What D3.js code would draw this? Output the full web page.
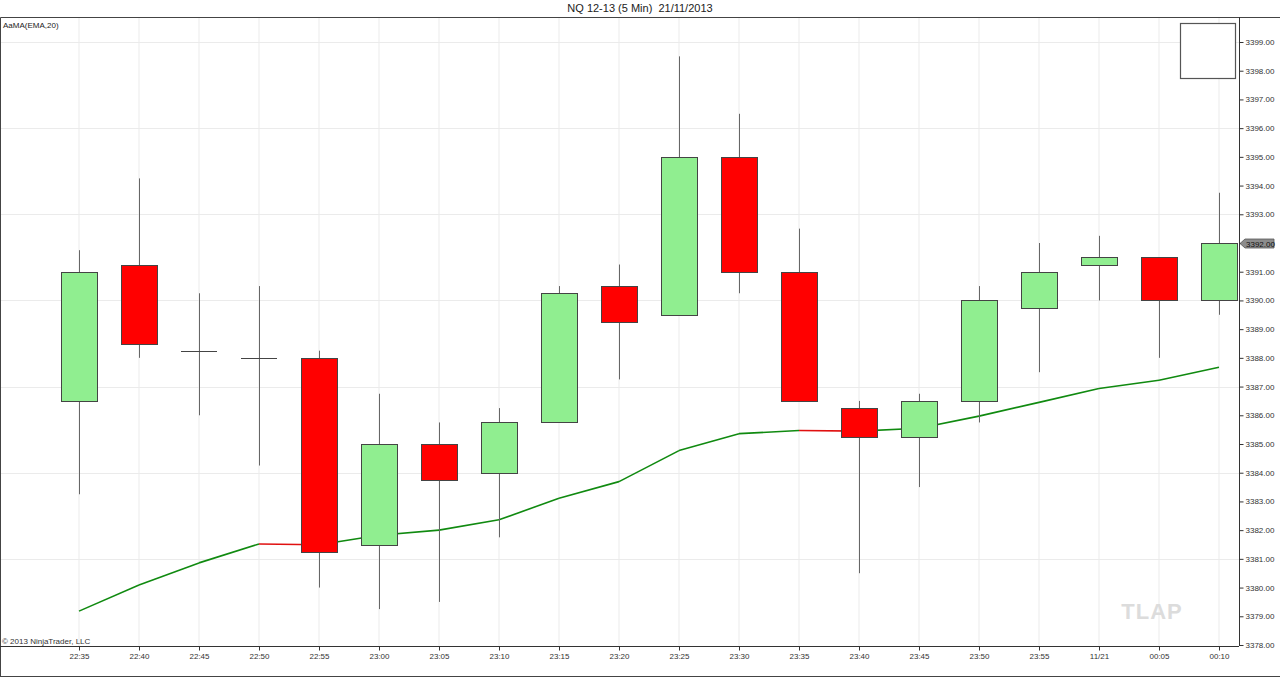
<!DOCTYPE html>
<html>
<head>
<meta charset="utf-8">
<script src="https://cdn.jsdelivr.net/npm/d3@7"></script>
<style>
  body { margin: 0; background: #fff; }
  svg { display: block; font-family: "Liberation Sans", Arial, sans-serif; }
</style>
</head>
<body>
<svg id="chart" width="1280" height="677"></svg>
<script>
// bar times (5 min)
var times = ['22:35','22:40','22:45','22:50','22:55','23:00','23:05','23:10','23:15','23:20',
             '23:25','23:30','23:35','23:40','23:45','23:50','23:55','11/21','00:05','00:10'];
var opens  = [3386.5, 3391.25, 3388.25, 3388.0, 3388.0, 3381.5, 3385.0, 3384.0, 3385.75, 3390.5,
              3389.5, 3395.0, 3391.0, 3386.25, 3385.25, 3386.5, 3389.75, 3391.25, 3391.5, 3390.0];
var highs  = [3391.75, 3394.25, 3390.25, 3390.5, 3388.25, 3386.75, 3385.75, 3386.25, 3390.5, 3391.25,
              3398.5, 3396.5, 3392.5, 3386.5, 3386.75, 3390.5, 3392.0, 3392.25, 3391.5, 3393.75];
var lows   = [3383.25, 3388.0, 3386.0, 3384.25, 3380.0, 3379.25, 3379.5, 3381.75, 3385.75, 3387.25,
              3389.5, 3390.25, 3386.5, 3380.5, 3383.5, 3385.75, 3387.5, 3390.0, 3388.0, 3389.5];
var closes = [3391.0, 3388.5, 3388.25, 3388.0, 3381.25, 3385.0, 3383.75, 3385.75, 3390.25, 3389.25,
              3395.0, 3391.0, 3386.5, 3385.25, 3386.5, 3390.0, 3391.0, 3391.5, 3390.0, 3392.0];
// AaMA(EMA,20)
var emaValues = [3379.18, 3380.09, 3380.86, 3381.52, 3381.49, 3381.82, 3382.0, 3382.36, 3383.11, 3383.69,
                 3384.77, 3385.36, 3385.47, 3385.45, 3385.55, 3385.97, 3386.45, 3386.93, 3387.22, 3387.67];
var priceTicks = d3.range(3378, 3400, 1);
var gridPrices = [3381, 3384, 3387, 3390, 3393, 3396, 3399];
var lastPrice = 3392.0;

var svg = d3.select('#chart');
var plotLeft = 1, plotRight = 1239, plotTop = 17, plotBottom = 646;

var x = d3.scalePoint().domain(times).range([79, 1219]);
var y = d3.scaleLinear().domain([3378, 3399]).range([645, 42]);

// title
svg.append('text')
    .attr('x', 640).attr('y', 12)
    .attr('text-anchor', 'middle')
    .attr('font-size', 11)
    .attr('fill', '#222')
    .style('white-space', 'pre')
    .text('NQ 12-13 (5 Min)  21/11/2013');

// grid
svg.append('g').selectAll('line').data(times).enter().append('line')
    .attr('x1', function (d) { return x(d); }).attr('x2', function (d) { return x(d); })
    .attr('y1', plotTop).attr('y2', plotBottom)
    .attr('stroke', '#ebebeb').attr('stroke-width', 1);

svg.append('g').selectAll('line').data(gridPrices).enter().append('line')
    .attr('x1', plotLeft).attr('x2', plotRight)
    .attr('y1', function (d) { return Math.round(y(d)) + 0.5; })
    .attr('y2', function (d) { return Math.round(y(d)) + 0.5; })
    .attr('stroke', '#ebebeb').attr('stroke-width', 1);

// frame
svg.append('path')
    .attr('d', 'M0.5,676.5 L0.5,17.5 L1280,17.5 M0,676.5 L1280,676.5')
    .attr('fill', 'none').attr('stroke', '#444').attr('stroke-width', 1);

// texts inside plot
svg.append('text').attr('x', 3).attr('y', 28)
    .attr('font-size', 8).attr('fill', '#222').text('AaMA(EMA,20)');
svg.append('text').attr('x', 2).attr('y', 644)
    .attr('font-size', 8).attr('fill', '#333').text('\u00a9 2013 NinjaTrader, LLC');
svg.append('text').attr('x', 1152).attr('y', 619)
    .attr('text-anchor', 'middle')
    .attr('font-size', 22).attr('font-weight', 'bold')
    .attr('letter-spacing', 1)
    .attr('fill', '#dcdcdc').text('TLAP');

// small box top right
svg.append('rect')
    .attr('x', 1180.5).attr('y', 23.5).attr('width', 55).attr('height', 55)
    .attr('fill', '#fff').attr('stroke', '#555').attr('stroke-width', 1.2);

// EMA line, segment colour by slope (drawn under the candles)
var segs = d3.range(1, emaValues.length).map(function (i) {
    return { a: i - 1, b: i, up: emaValues[i] > emaValues[i - 1] };
});
svg.append('g').selectAll('line').data(segs).enter().append('line')
    .attr('x1', function (d) { return x(times[d.a]); })
    .attr('y1', function (d) { return y(emaValues[d.a]); })
    .attr('x2', function (d) { return x(times[d.b]); })
    .attr('y2', function (d) { return y(emaValues[d.b]); })
    .attr('stroke', function (d) { return d.up ? '#108a10' : '#e01010'; })
    .attr('stroke-width', 1.6);

// candles
var candles = times.map(function (t, i) {
    return { t: t, o: opens[i], h: highs[i], l: lows[i], c: closes[i] };
});
var halfW = 18;
var cg = svg.append('g').selectAll('g').data(candles).enter().append('g');

cg.append('line')
    .attr('x1', function (d) { return Math.round(x(d.t)) + 0.5; })
    .attr('x2', function (d) { return Math.round(x(d.t)) + 0.5; })
    .attr('y1', function (d) { return y(d.h); })
    .attr('y2', function (d) { return y(d.l); })
    .attr('stroke', '#666').attr('stroke-width', 1);

cg.filter(function (d) { return d.o !== d.c; }).append('rect')
    .attr('x', function (d) { return Math.round(x(d.t)) - halfW + 0.5; })
    .attr('y', function (d) { return Math.round(y(Math.max(d.o, d.c))) + 0.5; })
    .attr('width', halfW * 2)
    .attr('height', function (d) { return Math.round(y(Math.min(d.o, d.c))) - Math.round(y(Math.max(d.o, d.c))); })
    .attr('fill', function (d) { return d.c > d.o ? '#90ee90' : '#ff0000'; })
    .attr('stroke', '#444').attr('stroke-width', 1);

cg.filter(function (d) { return d.o === d.c; }).append('line')
    .attr('x1', function (d) { return Math.round(x(d.t)) - halfW; })
    .attr('x2', function (d) { return Math.round(x(d.t)) + halfW; })
    .attr('y1', function (d) { return Math.round(y(d.c)) + 0.5; })
    .attr('y2', function (d) { return Math.round(y(d.c)) + 0.5; })
    .attr('stroke', '#444').attr('stroke-width', 1);

// right price axis
var yAxis = d3.axisRight(y).tickValues(priceTicks).tickSize(4).tickPadding(2)
    .tickFormat(d3.format('.2f'));
var ya = svg.append('g').attr('transform', 'translate(' + (plotRight + 0.5) + ',0)').call(yAxis);
ya.select('.domain').attr('d', 'M0,' + plotTop + 'V' + plotBottom).attr('stroke', '#333');
ya.selectAll('.tick line').attr('stroke', '#333');
ya.selectAll('.tick text').attr('font-size', 8).attr('fill', '#333')
    .attr('font-family', '"Liberation Sans", Arial, sans-serif');

// bottom time axis
var xAxis = d3.axisBottom(x).tickSize(4).tickPadding(3);
var xa = svg.append('g').attr('transform', 'translate(0,' + (plotBottom + 0.5) + ')').call(xAxis);
xa.select('.domain').attr('d', 'M0,0H' + plotRight).attr('stroke', '#333');
xa.selectAll('.tick line').attr('stroke', '#333');
xa.selectAll('.tick text').attr('font-size', 8).attr('fill', '#333')
    .attr('font-family', '"Liberation Sans", Arial, sans-serif');

// last price marker
var ly = Math.round(y(lastPrice)) + 0.5;
var marker = svg.append('g').attr('transform', 'translate(' + (plotRight + 1) + ',' + ly + ')');
marker.append('path')
    .attr('d', 'M0,0 L5,-4.5 L34,-4.5 L34,4.5 L5,4.5 Z')
    .attr('fill', '#8c8c8c').attr('stroke', '#555').attr('stroke-width', 0.8);
marker.append('text')
    .attr('x', 6).attr('y', 3)
    .attr('font-size', 8).attr('fill', '#111')
    .text(d3.format('.2f')(lastPrice));
</script>
</body>
</html>
